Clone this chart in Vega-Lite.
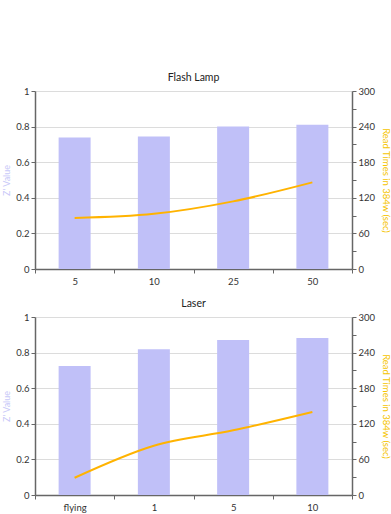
{
  "$schema": "https://vega.github.io/schema/vega-lite/v6.json",
  "padding": {"left": 2, "top": 72, "right": 1, "bottom": 2},
  "spacing": 12,
  "config": {
    "view": {"stroke": null},
    "font": "Lato",
    "axis": {"labelFontSize": 9.5, "labelColor": "#333", "domainColor": "#666", "domainWidth": 1.5, "tickColor": "#666", "tickSize": 4, "titleFontWeight": "normal", "titleFontSize": 9},
    "title": {"fontSize": 10.5, "fontWeight": 400, "color": "#222", "offset": 3}
  },
  "datasets": {
    "flash": [
      {"cat": "5", "z": 0.739, "rt": 86},
      {"cat": "10", "z": 0.745, "rt": 93},
      {"cat": "25", "z": 0.801, "rt": 114},
      {"cat": "50", "z": 0.811, "rt": 146}
    ],
    "laser": [
      {"cat": "flying", "z": 0.725, "rt": 29},
      {"cat": "1", "z": 0.819, "rt": 83},
      {"cat": "5", "z": 0.871, "rt": 109},
      {"cat": "10", "z": 0.882, "rt": 140}
    ]
  },
  "vconcat": [
    {
      "title": {"text": "Flash Lamp", "fontWeight": 400},
      "width": 317,
      "height": 178,
      "data": {"name": "flash"},
      "encoding": {
        "x": {"field": "cat", "type": "nominal", "sort": null, "scale": {"paddingInner": 0, "paddingOuter": 0},
          "axis": {"title": null, "labelAngle": 0, "tickBand": "extent", "labelPadding": 3}}
      },
      "layer": [
        {"mark": {"type": "bar", "color": "#c0c0f8", "size": 32},
          "encoding": {"y": {"field": "z", "type": "quantitative", "scale": {"domain": [0, 1]},
            "axis": {"title": "Z' Value", "titleColor": "#c8c8f8", "format": "~g", "values": [0, 0.2, 0.4, 0.6, 0.8, 1], "grid": true, "gridColor": "#dcdcdc", "titlePadding": 4}}}},
        {"mark": {"type": "line", "color": "#ffb300", "strokeWidth": 2, "interpolate": "monotone"},
          "encoding": {"y": {"field": "rt", "type": "quantitative", "scale": {"domain": [0, 300]},
            "axis": {"orient": "right", "title": "Read Times in 384w (sec)", "titleColor": "#f5c400", "titleFontSize": 9.5, "grid": false, "values": [0, 30, 60, 90, 120, 150, 180, 210, 240, 270, 300], "labelExpr": "datum.value % 60 == 0 ? datum.label : ''", "titlePadding": 6}}}}
      ],
      "resolve": {"scale": {"y": "independent"}}
    },
    {
      "title": {"text": "Laser", "fontWeight": 400},
      "width": 317,
      "height": 178,
      "data": {"name": "laser"},
      "encoding": {
        "x": {"field": "cat", "type": "nominal", "sort": null, "scale": {"paddingInner": 0, "paddingOuter": 0},
          "axis": {"title": null, "labelAngle": 0, "tickBand": "extent", "labelPadding": 3}}
      },
      "layer": [
        {"mark": {"type": "bar", "color": "#c0c0f8", "size": 32},
          "encoding": {"y": {"field": "z", "type": "quantitative", "scale": {"domain": [0, 1]},
            "axis": {"title": "Z' Value", "titleColor": "#c8c8f8", "format": "~g", "values": [0, 0.2, 0.4, 0.6, 0.8, 1], "grid": true, "gridColor": "#dcdcdc", "titlePadding": 4}}}},
        {"mark": {"type": "line", "color": "#ffb300", "strokeWidth": 2, "interpolate": "monotone"},
          "encoding": {"y": {"field": "rt", "type": "quantitative", "scale": {"domain": [0, 300]},
            "axis": {"orient": "right", "title": "Read Times in 384w (sec)", "titleColor": "#f5c400", "titleFontSize": 9.5, "grid": false, "values": [0, 30, 60, 90, 120, 150, 180, 210, 240, 270, 300], "labelExpr": "datum.value % 60 == 0 ? datum.label : ''", "titlePadding": 6}}}}
      ],
      "resolve": {"scale": {"y": "independent"}}
    }
  ]
}
